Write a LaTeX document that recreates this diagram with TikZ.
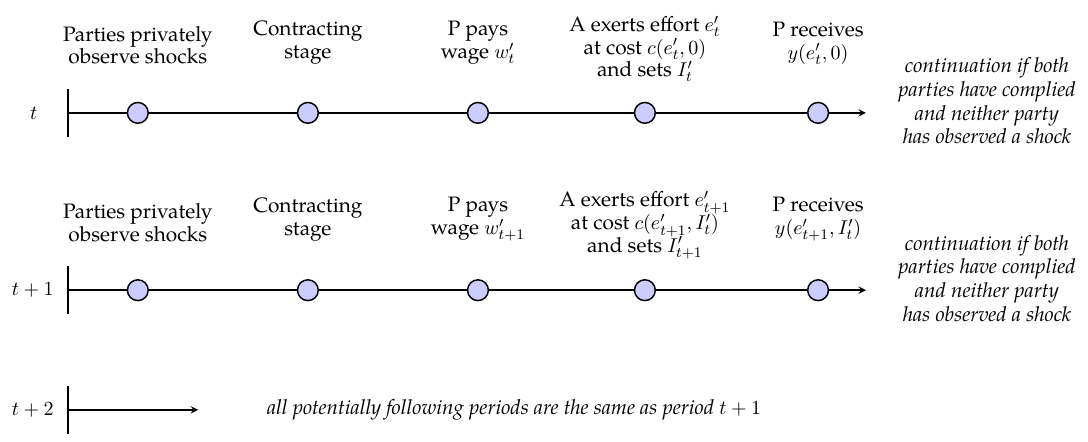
\documentclass[tikz,border=0pt]{standalone}
\usepackage{amsmath,amssymb}
\usepackage[no-math]{fontspec}
\setmainfont{texgyrepagella}[Extension=.otf, UprightFont=*-regular, ItalicFont=*-italic, BoldFont=*-bold, BoldItalicFont=*-bolditalic]
\usetikzlibrary{arrows,positioning,calc}

\begin{document}
\begin{tikzpicture}[
    dot/.style={circle, draw, thick, fill=blue!20, inner sep=0pt, minimum size=0.4cm},
    event/.style={align=center, inner sep=1pt, font=\fontsize{11.4}{12.4}\selectfont},
    period/.style={inner sep=0pt, font=\fontsize{11.4}{12}\selectfont},
    note/.style={align=center, font=\fontsize{11.3}{13}\selectfont\itshape}
]
\useasboundingbox (0,0) rectangle (20.92,-8.48);

% Period t
\coordinate (ta) at (1.31,-2.17);
\coordinate (tb) at (16.65,-2.17);
\coordinate (ttop) at (1.31,-1.71);
\coordinate (tbot) at (1.31,-2.63);
\draw[thick] (ttop) -- (tbot);
\draw[thick,-stealth] (ta) -- (tb);
\node[period] (tlab) at (0.65,-2.17) {$t$};

\node[dot] (t1) at (2.65,-2.17) {};
\node[dot] (t2) at (5.92,-2.17) {};
\node[dot] (t3) at (9.19,-2.17) {};
\node[dot] (t4) at (12.40,-2.17) {};
\node[dot] (t5) at (15.73,-2.17) {};

\node[event, above=0.68cm of t1] {Parties privately\\observe shocks};
\node[event, above=0.68cm of t2] {Contracting\\stage};
\node[event, above=0.68cm of t3] {P pays\\wage $w_t'$};
\node[event, above=0.34cm of t4] {A exerts effort $e_t'$\\at cost $c(e_t',0)$\\and sets $I_t'$};
\node[event, above=0.68cm of t5] {P receives\\$y(e_t',0)$};

\node[note, right=0.5cm of tb, yshift=0.23cm] {continuation if both\\parties have complied\\and neither party\\has observed a shock};

% Period t+1
\coordinate (ua) at (1.31,-5.58);
\coordinate (ub) at (16.65,-5.58);
\coordinate (utop) at (1.31,-5.12);
\coordinate (ubot) at (1.31,-6.04);
\draw[thick] (utop) -- (ubot);
\draw[thick,-stealth] (ua) -- (ub);
\node[period] (ulab) at (0.63,-5.58) {$t+1$};

\node[dot] (u1) at (2.65,-5.58) {};
\node[dot] (u2) at (5.92,-5.58) {};
\node[dot] (u3) at (9.19,-5.58) {};
\node[dot] (u4) at (12.40,-5.58) {};
\node[dot] (u5) at (15.73,-5.58) {};

\node[event, above=0.68cm of u1] {Parties privately\\observe shocks};
\node[event, above=0.68cm of u2] {Contracting\\stage};
\node[event, above=0.68cm of u3] {P pays\\wage $w_{t+1}'$};
\node[event, above=0.34cm of u4] {A exerts effort $e_{t+1}'$\\at cost $c(e_{t+1}',I_t')$\\and sets $I_{t+1}'$};
\node[event, above=0.68cm of u5] {P receives\\$y(e_{t+1}',I_t')$};

\node[note, right=0.5cm of ub, yshift=0.23cm] {continuation if both\\parties have complied\\and neither party\\has observed a shock};

% Period t+2
\coordinate (va) at (1.31,-7.88);
\coordinate (vb) at (3.81,-7.88);
\coordinate (vtop) at (1.31,-7.42);
\coordinate (vbot) at (1.31,-8.34);
\draw[thick] (vtop) -- (vbot);
\draw[thick,-stealth] (va) -- (vb);
\node[period] (vlab) at (0.63,-7.88) {$t+2$};

\node[note, right=1.2cm of vb] {all potentially following periods are the same as period $t+1$};
\end{tikzpicture}
\end{document}
